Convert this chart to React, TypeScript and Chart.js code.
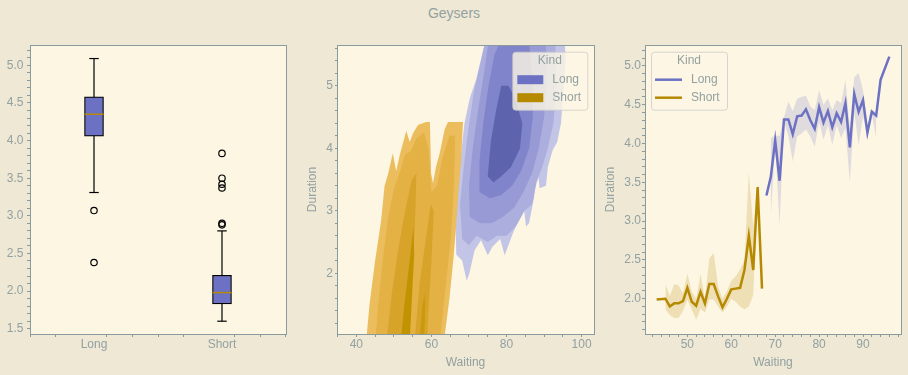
import React, { useEffect, useRef } from "react";
import { Chart, registerables } from "chart.js";

Chart.register(...registerables);

const FONT = "'Liberation Sans', Arial, Helvetica, sans-serif";
Chart.defaults.font.family = FONT;
Chart.defaults.font.size = 12;

const BG = "#EEE8D5";
const PLOT_BG = "#FDF6E3";
const TEXT = "#93A1A1";
const SPINE = "#8A9B9E";
const VIOLET = "#6C71C4";
const GOLD = "#B58900";
const H = 375;

// ---------------- data ----------------
const figureTitle = "Geysers";
const legendTitle = "Kind";
const kinds = ["Long", "Short"];
const kindColors = [VIOLET, GOLD];

// panel 1 : box plot of Duration by Kind
const boxQ1 = [4.06, 1.83];
const boxMedian = [4.35, 1.98];
const boxQ3 = [4.58, 2.21];
const whiskerLow = [3.31, 1.6];
const whiskerHigh = [5.09, 2.8];
const outliersLong = [3.07, 2.38];
const outliersShort = [3.83, 3.5, 3.42, 3.37, 2.9, 2.88];

// panel 2 : KDE contour levels (Waiting, Duration) vertices
type Pt = [number, number];
const longLevel1: Pt[] = [
  [69.4, 1.88], [68.2, 2.2], [66.6, 2.3], [66.4, 3.05], [67.5, 3.7], [68.8, 4.4], [70.2, 4.8],
  [71.9, 5.1], [73.7, 5.55], [74.3, 5.7], [95.5, 5.7], [95.8, 5.4], [94.5, 4.4], [93.5, 4.1],
  [92.3, 3.97], [91.0, 3.7], [90.5, 3.4], [88.8, 3.36], [88.2, 3.7], [87.3, 3.2], [86.0, 2.8],
  [85.2, 2.75], [84.5, 3.1], [83.5, 2.9], [81.7, 2.64], [79.5, 2.29], [78.3, 2.55], [76.3, 2.43],
  [75.0, 2.29], [73.2, 2.53], [71.5, 2.37], [70.1, 2.0],
];
const longLevel2: Pt[] = [
  [68.2, 2.55], [67.6, 3.1], [68.6, 3.7], [69.8, 4.3], [71.3, 4.9], [73.2, 5.4], [74.3, 5.7],
  [93.0, 5.7], [93.3, 5.0], [92.5, 4.4], [91.0, 4.0], [89.5, 3.7], [88.0, 3.45], [86.8, 3.1],
  [84.8, 3.0], [82.5, 2.75], [80.0, 2.6], [77.5, 2.6], [75.0, 2.5], [72.0, 2.6], [70.0, 2.45],
];
const longLevel3: Pt[] = [
  [70.2, 2.9], [70.0, 3.4], [71.0, 4.0], [72.4, 4.6], [74.0, 5.2], [75.2, 5.7], [90.5, 5.7],
  [90.8, 5.1], [90.0, 4.5], [88.6, 4.0], [86.8, 3.6], [84.5, 3.3], [82.0, 3.05], [79.0, 2.9],
  [76.0, 2.8], [73.0, 2.8],
];
const longLevel4: Pt[] = [
  [72.8, 3.3], [72.8, 3.8], [73.8, 4.4], [75.2, 5.0], [76.8, 5.5], [78.3, 5.7], [86.0, 5.7],
  [87.0, 5.1], [87.0, 4.5], [86.0, 4.0], [84.0, 3.65], [81.5, 3.4], [78.5, 3.25], [75.5, 3.2],
];
const longLevel5: Pt[] = [
  [75.0, 3.55], [75.8, 4.1], [77.2, 4.6], [78.6, 5.0], [80.5, 5.0], [82.3, 4.8], [84.2, 4.4],
  [83.6, 4.0], [81.2, 3.7], [78.6, 3.55], [76.5, 3.45],
];
const shortLevel1: Pt[] = [
  [42.6, 0.9], [43.5, 1.5], [44.9, 2.16], [46.6, 2.85], [47.5, 3.39], [48.5, 3.6], [49.7, 3.92],
  [50.6, 3.63], [51.6, 3.9], [53.3, 4.28], [54.2, 4.1], [55.1, 4.24], [56.4, 4.37], [58.6, 4.42],
  [59.6, 4.42], [59.9, 3.6], [60.4, 3.44], [61.2, 3.7], [62.2, 3.92], [63.5, 4.3], [64.4, 4.42],
  [68.4, 4.42], [67.9, 3.8], [67.2, 3.3], [66.5, 2.7], [65.8, 2.2], [64.8, 1.6], [63.3, 0.9],
];
const shortLevel2: Pt[] = [
  [45.0, 0.9], [46.0, 1.6], [47.2, 2.3], [48.5, 2.9], [50.0, 3.35], [51.5, 3.6], [53.0, 3.9],
  [54.5, 3.95], [56.0, 4.15], [58.0, 4.25], [59.2, 4.0], [60.0, 3.3], [61.5, 3.4], [63.0, 3.85],
  [64.8, 4.2], [66.3, 4.2], [66.0, 3.4], [65.2, 2.6], [64.0, 1.9], [62.2, 0.9],
];
const shortLevel3a: Pt[] = [
  [48.0, 0.9], [49.5, 1.7], [51.2, 2.4], [53.0, 3.0], [54.8, 3.5], [56.0, 3.6], [55.6, 2.8],
  [54.8, 1.9], [54.0, 0.9],
];
const shortLevel3b: Pt[] = [
  [55.5, 0.9], [56.8, 1.8], [58.4, 2.5], [59.8, 3.1], [60.6, 3.0], [60.0, 2.2], [59.2, 1.4], [58.8, 0.9],
];
const shortLevel4a: Pt[] = [
  [51.8, 0.9], [52.8, 1.5], [54.0, 2.1], [55.2, 2.75], [55.4, 2.3], [54.7, 1.5], [54.2, 0.9],
];
const shortLevel4b: Pt[] = [
  [56.8, 0.9], [57.6, 1.5], [58.4, 1.7], [58.2, 1.2], [57.9, 0.9],
];

// panel 3 : mean Duration by Waiting with confidence band
const longWaiting = [68, 69, 70, 71, 72, 73, 74, 75, 76, 77, 78, 79, 80, 81, 82, 83, 84, 85, 86, 87, 88, 89, 90, 91, 92, 93, 94, 96];
const longDuration = [3.33, 3.57, 4.04, 3.52, 4.31, 4.31, 4.12, 4.35, 4.36, 4.44, 4.3, 4.19, 4.47, 4.27, 4.42, 4.21, 4.39, 4.28, 4.52, 3.95, 4.64, 4.41, 4.56, 4.14, 4.41, 4.36, 4.82, 5.12];
const longBandWaiting = [69, 70, 71, 72, 73, 74, 75, 76, 77, 78, 79, 80, 81, 82, 83, 84, 85, 86, 87, 88, 89, 90, 91, 92, 93];
const longBandLow = [3.07, 3.97, 2.95, 4.28, 4.1, 3.77, 4.09, 4.13, 4.18, 4.09, 3.96, 4.28, 4.05, 4.24, 3.98, 4.24, 4.07, 4.2, 3.5, 4.41, 3.98, 4.35, 4.1, 4.38, 4.07];
const longBandHigh = [4.07, 4.1, 4.1, 4.34, 4.54, 4.42, 4.58, 4.6, 4.62, 4.48, 4.43, 4.69, 4.5, 4.58, 4.43, 4.56, 4.52, 4.82, 4.2, 4.85, 4.91, 4.69, 4.2, 4.44, 4.4];

const shortWaiting = [43, 45, 46, 47, 48, 49, 50, 51, 52, 53, 54, 55, 56, 57, 58, 59, 60, 61, 62, 63, 64, 65, 66, 67];
const shortDuration = [1.99, 2.0, 1.9, 1.94, 1.94, 1.97, 2.14, 1.96, 1.91, 2.09, 1.94, 2.19, 2.19, 2.03, 1.89, 2.0, 2.12, 2.13, 2.14, 2.37, 2.81, 2.37, 3.44, 2.13];
const shortBandWaiting = [45, 46, 47, 48, 49, 50, 51, 52, 53, 54, 55, 56, 57, 58, 59, 60, 61, 62, 63, 64, 65, 66];
const shortBandLow = [1.86, 1.79, 1.75, 1.75, 1.84, 1.99, 1.86, 1.73, 1.87, 1.82, 1.99, 1.99, 1.9, 1.82, 1.9, 2.0, 1.96, 1.9, 1.86, 1.9, 2.05, 3.35];
const shortBandHigh = [2.19, 2.03, 2.19, 2.17, 2.07, 2.32, 2.09, 2.0, 2.32, 2.0, 2.52, 2.59, 2.16, 2.0, 2.1, 2.23, 2.29, 2.38, 2.5, 3.63, 2.93, 3.52];

// ---------------- helpers ----------------
const near = (v: number, step: number) => Math.abs(v / step - Math.round(v / step)) < 1e-6;
const pts = (arr: Pt[]) => arr.map(([x, y]) => ({ x, y }));
const xy = (xs: number[], ys: number[]) => xs.map((x, i) => ({ x, y: ys[i] }));

function linScale(o: {
  min: number; max: number; step: number; fit: (s: any) => void; label: (v: number) => string;
  tickLen: number; pad: number; title?: string; titlePad?: any; hideTick?: (v: number) => boolean;
}) {
  return {
    type: "linear",
    min: o.min,
    max: o.max,
    offset: false,
    afterFit: o.fit,
    grid: {
      display: true,
      drawOnChartArea: false,
      drawTicks: true,
      tickLength: o.tickLen,
      tickWidth: 1,
      tickColor: (c: any) => (o.hideTick && c.tick && o.hideTick(c.tick.value) ? "rgba(0,0,0,0)" : SPINE),
    },
    border: { display: false },
    ticks: {
      stepSize: o.step,
      autoSkip: false,
      includeBounds: false,
      maxRotation: 0,
      minRotation: 0,
      padding: o.pad,
      color: TEXT,
      font: { size: 12, family: FONT },
      callback: (v: any) => o.label(Number(v)),
    },
    title: o.title
      ? { display: true, text: o.title, color: TEXT, font: { size: 12, family: FONT }, padding: o.titlePad }
      : { display: false },
  };
}

function baseOptions(padRight: number, scales: any) {
  return {
    responsive: false,
    animation: false,
    devicePixelRatio: 1,
    events: [],
    layout: { padding: { left: 0, right: padRight, top: 45, bottom: 0 }, autoPadding: false },
    plugins: { legend: { display: false }, tooltip: { enabled: false }, title: { display: false } },
    scales,
  };
}

const plotBg = {
  id: "plotBg",
  beforeDraw(chart: any) {
    const { ctx, chartArea: a } = chart;
    ctx.save();
    ctx.fillStyle = PLOT_BG;
    ctx.fillRect(a.left, a.top, a.width, a.height);
    ctx.restore();
  },
};

const frame = {
  id: "frame",
  afterDatasetsDraw(chart: any) {
    const { ctx, chartArea: a } = chart;
    ctx.save();
    ctx.strokeStyle = SPINE;
    ctx.lineWidth = 1;
    ctx.strokeRect(a.left + 0.5, a.top + 0.5, a.width, a.height);
    ctx.restore();
  },
};

function legendPlugin(cfg: { dx: number; dy: number; w: number; h: number; mode: "rect" | "line" }) {
  return {
    id: "kindLegend",
    afterDraw(chart: any) {
      const { ctx, chartArea: a } = chart;
      const x0 = a.left + cfg.dx;
      const y0 = a.top + cfg.dy;
      ctx.save();
      ctx.beginPath();
      (ctx as any).roundRect(x0 + 0.5, y0 + 0.5, cfg.w, cfg.h, 3);
      ctx.fillStyle = "rgba(253,246,227,0.8)";
      ctx.fill();
      ctx.strokeStyle = "rgba(204,204,204,0.8)";
      ctx.lineWidth = 1;
      ctx.stroke();
      ctx.font = `12px ${FONT}`;
      ctx.fillStyle = TEXT;
      ctx.textAlign = "center";
      ctx.textBaseline = "middle";
      ctx.fillText(legendTitle, x0 + cfg.w / 2, y0 + 9);
      kinds.forEach((k, i) => {
        const cy = y0 + 28 + i * 18;
        if (cfg.mode === "rect") {
          ctx.fillStyle = kindColors[i];
          ctx.fillRect(x0 + 5, cy - 4.5, 26, 9);
        } else {
          ctx.strokeStyle = kindColors[i];
          ctx.lineWidth = 2.5;
          ctx.beginPath();
          ctx.moveTo(x0 + 4, cy);
          ctx.lineTo(x0 + 31, cy);
          ctx.stroke();
        }
        ctx.fillStyle = TEXT;
        ctx.textAlign = "left";
        ctx.fillText(k, x0 + 40, cy);
      });
      ctx.restore();
    },
  };
}

function segment(x1: number, y1: number, x2: number, y2: number, color: string, width: number, order: number) {
  return {
    type: "line",
    data: [{ x: x1, y: y1 }, { x: x2, y: y2 }],
    borderColor: color,
    borderWidth: width,
    pointRadius: 0,
    fill: false,
    order,
  };
}

function polygon(arr: Pt[], color: string, order: number) {
  return {
    type: "line",
    data: pts(arr),
    fill: "shape",
    backgroundColor: color,
    borderColor: color,
    borderWidth: 0,
    pointRadius: 0,
    tension: 0,
    order,
  };
}

// ---------------- panel configs ----------------
function boxConfig(): any {
  const capHalf = 0.037;
  const boxHalf = 0.074;
  const datasets: any[] = [
    {
      type: "bar",
      data: kinds.map((_, i) => ({ x: i, y: [boxQ1[i], boxQ3[i]] })),
      backgroundColor: VIOLET,
      borderColor: "#000000",
      borderWidth: 1.2,
      borderSkipped: false,
      barThickness: 19,
      order: 5,
    },
  ];
  kinds.forEach((_, i) => {
    datasets.push(segment(i, whiskerHigh[i], i, boxQ3[i], "#000000", 1.2, 4));
    datasets.push(segment(i, boxQ1[i], i, whiskerLow[i], "#000000", 1.2, 4));
    datasets.push(segment(i - capHalf, whiskerHigh[i], i + capHalf, whiskerHigh[i], "#000000", 1.2, 4));
    datasets.push(segment(i - capHalf, whiskerLow[i], i + capHalf, whiskerLow[i], "#000000", 1.2, 4));
    datasets.push(segment(i - boxHalf, boxMedian[i], i + boxHalf, boxMedian[i], GOLD, 1.5, 1));
  });
  datasets.push({
    type: "scatter",
    data: outliersLong.map((y) => ({ x: 0, y })).concat(outliersShort.map((y) => ({ x: 1, y }))),
    pointStyle: "circle",
    pointRadius: 3.2,
    pointBorderWidth: 1.2,
    pointBorderColor: "#000000",
    pointBackgroundColor: "rgba(0,0,0,0)",
    showLine: false,
    order: 0,
  });
  return {
    type: "scatter",
    data: { datasets },
    options: baseOptions(14, {
      x: linScale({
        min: -0.5001, max: 1.5001, step: 0.2, fit: (s) => { s.height = 41; },
        label: (v) => (near(v, 1) && kinds[Math.round(v)] ? kinds[Math.round(v)] : ""),
        tickLen: 3, pad: 0, hideTick: (v) => near(v, 1),
      }),
      y: linScale({
        min: 1.43, max: 5.27, step: 0.1, fit: (s) => { s.width = 30; },
        label: (v) => (near(v, 0.5) ? v.toFixed(1) : ""),
        tickLen: 3, pad: 3.5,
      }),
    }),
    plugins: [plotBg, frame],
  };
}

function kdeConfig(): any {
  const datasets = [
    polygon(longLevel1, "#C3C5E7", 20),
    polygon(longLevel2, "#ACAFDE", 19),
    polygon(longLevel3, "#979AD5", 18),
    polygon(longLevel4, "#8084CA", 17),
    polygon(longLevel5, "#5E63AE", 16),
    polygon(shortLevel1, "#EBBD5D", 15),
    polygon(shortLevel2, "#E3B144", 14),
    polygon(shortLevel3a, "#D8A329", 13),
    polygon(shortLevel3b, "#D8A329", 12),
    polygon(shortLevel4a, "#C29300", 11),
    polygon(shortLevel4b, "#CA9A0C", 10),
  ];
  return {
    type: "scatter",
    data: { datasets },
    options: baseOptions(14, {
      x: linScale({
        min: 34.84, max: 103.3, step: 5, fit: (s) => { s.height = 41; },
        label: (v) => (near(v, 20) ? String(Math.round(v)) : ""),
        tickLen: 3, pad: 0, title: "Waiting", titlePad: { top: 0, bottom: 5.5 },
      }),
      y: linScale({
        min: 1.03, max: 5.65, step: 0.2, fit: (s) => { s.width = 37; },
        label: (v) => (near(v, 1) ? String(Math.round(v)) : ""),
        tickLen: 2, pad: 2, title: "Duration", titlePad: { top: 5.5, bottom: 0 },
      }),
    }),
    plugins: [plotBg, frame, legendPlugin({ dx: 175.3, dy: 6.7, w: 75, h: 58, mode: "rect" })],
  };
}

function lineConfig(): any {
  const band = (xs: number[], lo: number[], hi: number[], color: string) => [
    { type: "line", data: xy(xs, lo), borderWidth: 0, pointRadius: 0, fill: false, order: 3 },
    { type: "line", data: xy(xs, hi), borderWidth: 0, pointRadius: 0, fill: "-1", backgroundColor: color, order: 3 },
  ];
  const datasets: any[] = [
    ...band(longBandWaiting, longBandLow, longBandHigh, "rgba(108,113,196,0.2)"),
    ...band(shortBandWaiting, shortBandLow, shortBandHigh, "rgba(181,137,0,0.2)"),
    { type: "line", data: xy(longWaiting, longDuration), borderColor: VIOLET, borderWidth: 2.5, pointRadius: 0, fill: false, order: 0 },
    { type: "line", data: xy(shortWaiting, shortDuration), borderColor: GOLD, borderWidth: 2.5, pointRadius: 0, fill: false, order: 0 },
  ];
  return {
    type: "scatter",
    data: { datasets },
    options: baseOptions(7, {
      x: linScale({
        min: 40.35, max: 98.65, step: 2, fit: (s) => { s.height = 41; },
        label: (v) => (near(v, 10) ? String(Math.round(v)) : ""),
        tickLen: 3, pad: 0, title: "Waiting", titlePad: { top: 0, bottom: 5.5 },
      }),
      y: linScale({
        min: 1.545, max: 5.27, step: 0.1, fit: (s) => { s.width = 47; },
        label: (v) => (near(v, 0.5) ? v.toFixed(1) : ""),
        tickLen: 3, pad: 1, title: "Duration", titlePad: { top: 5.8, bottom: 0 },
      }),
    }),
    plugins: [plotBg, frame, legendPlugin({ dx: 6, dy: 6.7, w: 76, h: 58, mode: "line" })],
  };
}

// ---------------- components ----------------
function ChartCanvas({ left, width, build }: { left: number; width: number; build: () => any }) {
  const ref = useRef<HTMLCanvasElement | null>(null);
  useEffect(() => {
    if (!ref.current) return;
    const chart = new Chart(ref.current, build());
    return () => chart.destroy();
  }, []);
  return (
    <canvas
      ref={ref}
      width={width}
      height={H}
      style={{ position: "absolute", left, top: 0, width, height: H, display: "block" }}
    />
  );
}

export default function App() {
  return (
    <div
      style={{
        position: "fixed",
        left: 0,
        top: 0,
        width: 908,
        height: H,
        background: BG,
        overflow: "hidden",
      }}
    >
      <div
        style={{
          position: "absolute",
          left: 0,
          top: 5,
          width: 908,
          textAlign: "center",
          font: `14px ${FONT}`,
          lineHeight: "16px",
          color: TEXT,
        }}
      >
        {figureTitle}
      </div>
      <ChartCanvas left={0} width={300} build={boxConfig} />
      <ChartCanvas left={300} width={308} build={kdeConfig} />
      <ChartCanvas left={598} width={310} build={lineConfig} />
    </div>
  );
}
